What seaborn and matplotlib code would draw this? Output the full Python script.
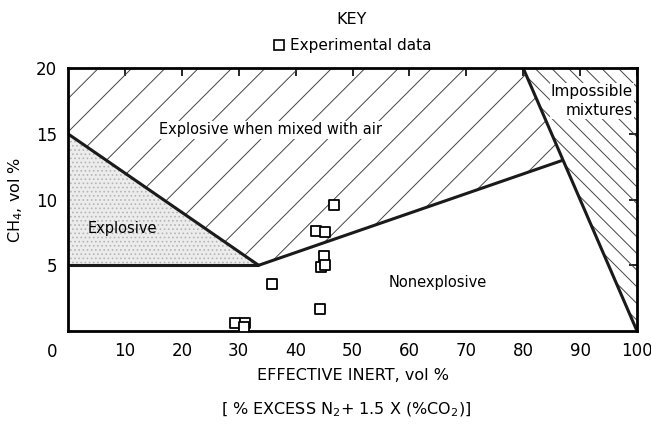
import matplotlib
matplotlib.use("Agg")
import matplotlib.pyplot as plt
import seaborn as sns
import pandas as pd
from matplotlib.patches import Polygon
from matplotlib.lines import Line2D

# experimental points: effective inert (vol %) vs CH4 (vol %)
inert = [46.8, 43.6, 45.2, 45.0, 44.4, 45.2, 35.9, 44.3, 29.3, 31.1, 30.9]
methane = [9.6, 7.6, 7.5, 5.7, 4.9, 5.0, 3.6, 1.7, 0.6, 0.6, 0.3]

# region outlines
explosive_x = [0, 33.5, 0]
explosive_y = [15, 5, 5]
air_x = [0, 0, 80, 87, 33.5]
air_y = [15, 20, 20, 13, 5]
impossible_x = [80, 100, 100]
impossible_y = [20, 20, 0]

# boundary lines
lines = [
    ([0, 33.5], [15, 5]),
    ([0, 33.5], [5, 5]),
    ([33.5, 87], [5, 13]),
    ([80, 100], [20, 0]),
]

xticks = [10, 20, 30, 40, 50, 60, 70, 80, 90, 100]
yticks = [5, 10, 15, 20]

sns.set_style("white")
plt.rcParams["font.family"] = ["DejaVu Sans"]
plt.rcParams["hatch.linewidth"] = 0.7
plt.rcParams["text.color"] = "black"
plt.rcParams["axes.labelcolor"] = "black"

fig = plt.figure(figsize=(6.51, 4.26), dpi=100)
ax = fig.add_axes([0.1045, 0.223, 0.874, 0.617])

ax.add_patch(Polygon(list(zip(explosive_x, explosive_y)), closed=True,
                     facecolor="#ececec", edgecolor="#b5b5b5", hatch="....",
                     linewidth=0, zorder=1))
ax.add_patch(Polygon(list(zip(air_x, air_y)), closed=True, fill=False,
                     hatch="/", edgecolor="#444444", linewidth=0, zorder=1))
ax.add_patch(Polygon(list(zip(impossible_x, impossible_y)), closed=True, fill=False,
                     hatch="\\\\", edgecolor="#444444", linewidth=0, zorder=1))

for xs, ys in lines:
    ax.plot(xs, ys, color="#1a1a1a", lw=2.2, zorder=2, solid_capstyle="butt")

df = pd.DataFrame({"inert": inert, "ch4": methane})
sns.scatterplot(data=df, x="inert", y="ch4", marker="s", s=55,
                facecolor="white", edgecolor="black", linewidth=1.3,
                ax=ax, zorder=3)

ax.set_xlim(0, 100)
ax.set_ylim(0, 20)
ax.set_xticks(xticks)
ax.set_yticks(yticks)
ax.tick_params(direction="in", length=6, width=1.2, labelsize=12,
               top=True, right=True, colors="black", pad=8)
for s in ax.spines.values():
    s.set_linewidth(2)
    s.set_color("black")
ax.text(-2.8, -0.95, "0", fontsize=12, ha="center", va="top", clip_on=False)

ax.set_xlabel("EFFECTIVE INERT, vol %", fontsize=11.5, labelpad=6)
ax.set_ylabel("CH$_4$, vol %", fontsize=11.5, labelpad=8)
fig.text(0.532, 0.038, "[ % EXCESS N$_2$+ 1.5 X (%CO$_2$)]", ha="center",
         va="center", fontsize=11.5)

ax.text(35.5, 15.3, "Explosive when mixed with air", fontsize=10.5,
        ha="center", va="center", zorder=4,
        bbox=dict(facecolor="white", edgecolor="none", pad=1))
ax.text(3.5, 7.8, "Explosive", fontsize=10.5, ha="left", va="center", zorder=4)
ax.text(65, 3.7, "Nonexplosive", fontsize=10.5, ha="center", va="center", zorder=4)
ax.text(99.3, 17.5, "Impossible\nmixtures", fontsize=11, ha="right",
        va="center", zorder=4, linespacing=1.3,
        bbox=dict(facecolor="white", edgecolor="none", pad=0.5))

handle = Line2D([], [], marker="s", linestyle="none", markerfacecolor="white",
                markeredgecolor="black", markersize=7, markeredgewidth=1.2)
leg = fig.legend([handle], ["Experimental data"], title="KEY", loc="upper center",
                 bbox_to_anchor=(0.54, 1.0), frameon=False, fontsize=11,
                 title_fontsize=11.5, handletextpad=0.2, handlelength=1.0,
                 borderaxespad=0.4, labelspacing=0.3)
leg._legend_box.sep = 8

fig.savefig("out.png", dpi=100)
